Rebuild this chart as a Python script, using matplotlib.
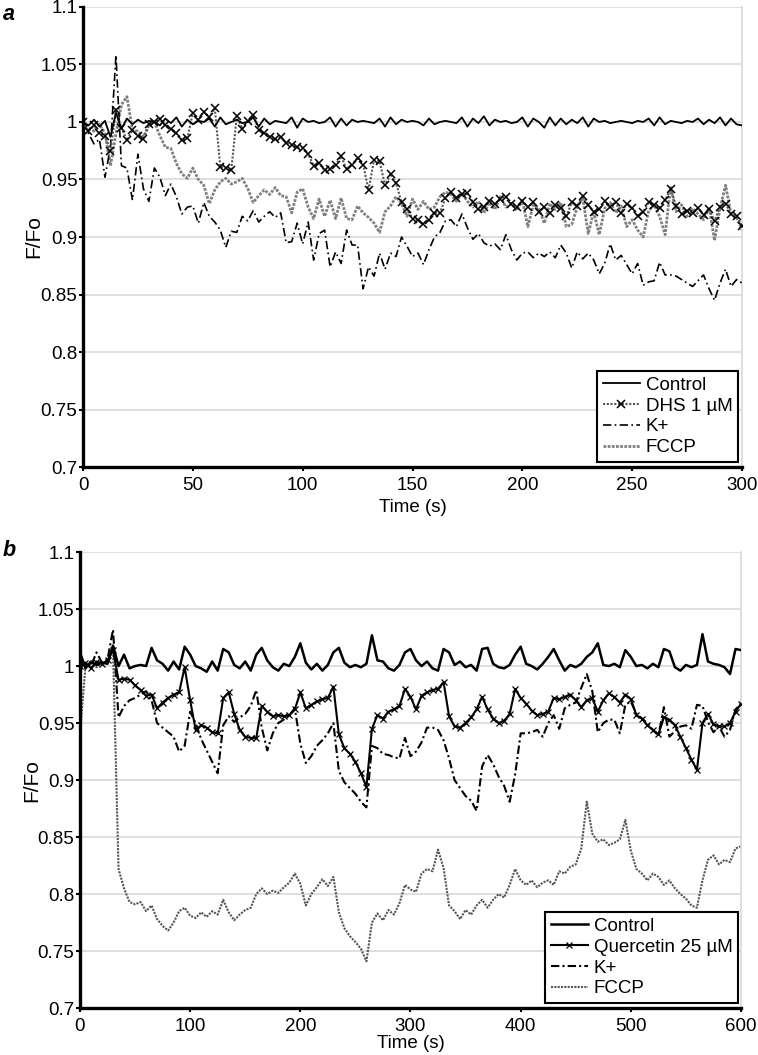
import numpy as np
import matplotlib
matplotlib.use("Agg")
import matplotlib.pyplot as plt
from matplotlib.ticker import FuncFormatter

plt.rcParams['font.family'] = ['Liberation Sans', 'DejaVu Sans']

# ---- panel a : 0-300 s, one value every 2.5 s ----
step_a = 2.5
control_a = [
    1.000, 0.997, 1.002, 0.996, 1.001, 0.987, 1.008, 0.994, 1.003, 0.998,
    1.002, 0.999, 1.001, 1.000, 0.997, 1.003, 0.999, 1.004, 0.996, 1.002,
    0.998, 1.001, 1.000, 1.003, 0.996, 1.004, 0.998, 1.000, 1.002, 0.999,
    1.000, 1.004, 0.996, 1.003, 0.998, 1.001, 1.000, 0.999, 1.004, 0.995,
    1.003, 1.000, 1.001, 0.999, 1.000, 1.004, 0.996, 1.003, 0.997, 1.002,
    1.000, 1.001, 1.000, 0.999, 1.003, 0.996, 1.004, 0.998, 1.002, 1.000,
    1.001, 1.000, 0.997, 1.003, 0.998, 1.000, 1.001, 1.000, 0.999, 1.004,
    0.996, 1.003, 0.999, 1.005, 0.997, 1.002, 1.000, 1.001, 0.999, 1.000,
    1.004, 0.996, 1.003, 1.000, 0.995, 1.004, 0.997, 1.003, 0.998, 1.002,
    0.999, 1.004, 0.996, 1.003, 1.000, 1.001, 0.999, 1.000, 1.001, 1.000,
    0.999, 1.001, 1.000, 1.003, 0.997, 1.004, 0.998, 1.001, 1.000, 0.999,
    1.001, 1.000, 1.003, 0.998, 1.002, 0.999, 1.004, 0.997, 1.003, 0.998,
    0.997]
dhs_a = [
    1.000, 0.992, 0.997, 0.990, 0.988, 0.975, 1.010, 0.995, 0.984, 0.993,
    0.988, 0.985, 0.998, 1.000, 1.003, 0.997, 0.994, 0.990, 0.984, 0.986,
    1.008, 1.002, 1.009, 1.004, 1.012, 0.961, 0.960, 0.958, 1.005, 0.994,
    1.001, 1.006, 0.993, 0.990, 0.987, 0.985, 0.987, 0.982, 0.980, 0.978,
    0.977, 0.972, 0.962, 0.964, 0.958, 0.959, 0.963, 0.970, 0.959, 0.963,
    0.969, 0.963, 0.941, 0.967, 0.966, 0.945, 0.955, 0.947, 0.930, 0.924,
    0.916, 0.915, 0.911, 0.915, 0.921, 0.921, 0.934, 0.939, 0.934, 0.937,
    0.938, 0.930, 0.924, 0.926, 0.931, 0.929, 0.933, 0.935, 0.929, 0.926,
    0.931, 0.926, 0.930, 0.922, 0.926, 0.921, 0.928, 0.925, 0.918, 0.930,
    0.927, 0.936, 0.928, 0.922, 0.924, 0.931, 0.926, 0.930, 0.921, 0.929,
    0.925, 0.918, 0.922, 0.930, 0.928, 0.925, 0.932, 0.942, 0.927, 0.920,
    0.923, 0.921, 0.925, 0.919, 0.924, 0.914, 0.926, 0.929, 0.920, 0.918,
    0.910]
kplus_a = [
    1.000, 0.990, 0.981, 0.985, 0.952, 0.978, 1.058, 0.962, 0.960, 0.932,
    0.972, 0.942, 0.931, 0.960, 0.952, 0.936, 0.946, 0.935, 0.920, 0.926,
    0.927, 0.912, 0.930, 0.918, 0.913, 0.906, 0.891, 0.905, 0.904, 0.918,
    0.914, 0.923, 0.913, 0.918, 0.922, 0.917, 0.921, 0.895, 0.896, 0.912,
    0.894, 0.913, 0.880, 0.903, 0.906, 0.874, 0.887, 0.877, 0.906, 0.893,
    0.893, 0.855, 0.874, 0.866, 0.886, 0.872, 0.886, 0.883, 0.900, 0.892,
    0.883, 0.886, 0.876, 0.889, 0.900, 0.904, 0.914, 0.915, 0.909, 0.920,
    0.908, 0.898, 0.903, 0.895, 0.892, 0.894, 0.889, 0.902, 0.889, 0.880,
    0.886, 0.887, 0.882, 0.886, 0.883, 0.887, 0.882, 0.893, 0.886, 0.873,
    0.887, 0.881, 0.886, 0.880, 0.868, 0.877, 0.894, 0.880, 0.884, 0.876,
    0.868, 0.877, 0.858, 0.861, 0.862, 0.878, 0.867, 0.867, 0.866, 0.863,
    0.860, 0.857, 0.862, 0.867, 0.855, 0.845, 0.860, 0.872, 0.857, 0.863,
    0.860]
fccp_a = [
    1.000, 0.995, 0.992, 0.998, 0.990, 0.962, 0.990, 1.015, 1.022, 0.993,
    0.992, 0.987, 0.997, 1.000, 0.988, 0.978, 0.977, 0.964, 0.955, 0.951,
    0.960, 0.950, 0.945, 0.929, 0.941, 0.948, 0.951, 0.946, 0.948, 0.951,
    0.942, 0.930, 0.936, 0.941, 0.937, 0.943, 0.936, 0.935, 0.921, 0.939,
    0.942, 0.926, 0.916, 0.933, 0.918, 0.932, 0.916, 0.934, 0.916, 0.915,
    0.927, 0.921, 0.917, 0.912, 0.904, 0.922, 0.927, 0.935, 0.929, 0.918,
    0.933, 0.924, 0.931, 0.924, 0.926, 0.935, 0.939, 0.937, 0.931, 0.938,
    0.931, 0.926, 0.931, 0.921, 0.930, 0.924, 0.935, 0.926, 0.929, 0.923,
    0.932, 0.909, 0.928, 0.925, 0.912, 0.929, 0.924, 0.930, 0.909, 0.911,
    0.926, 0.934, 0.903, 0.922, 0.902, 0.925, 0.930, 0.921, 0.927, 0.909,
    0.915, 0.906, 0.900, 0.923, 0.928, 0.918, 0.902, 0.944, 0.922, 0.928,
    0.918, 0.925, 0.920, 0.915, 0.926, 0.897, 0.925, 0.945, 0.920, 0.917,
    0.906]

# ---- panel b : 0-600 s, one value every 5 s ----
step_b = 5
control_b = [
    1.012, 0.998, 1.004, 1.001, 1.003, 1.002, 1.018, 1.000, 1.010, 0.998,
    1.000, 1.001, 1.000, 1.016, 1.005, 1.002, 0.996, 1.004, 0.997, 1.017,
    1.010, 1.000, 0.998, 0.995, 1.004, 0.996, 1.015, 1.012, 1.001, 0.998,
    1.004, 0.996, 1.010, 1.016, 1.005, 0.999, 0.996, 1.002, 1.000, 1.008,
    1.020, 1.003, 0.997, 1.002, 0.996, 1.001, 1.012, 1.016, 1.003, 0.999,
    1.001, 0.999, 1.002, 1.027, 1.005, 1.004, 0.998, 0.996, 1.001, 1.012,
    1.015, 1.005, 1.000, 1.004, 0.998, 0.996, 1.015, 1.012, 1.001, 1.004,
    0.999, 1.001, 0.996, 1.015, 1.016, 1.002, 0.999, 0.998, 1.001, 1.010,
    1.017, 1.002, 1.000, 0.997, 1.002, 1.008, 1.015, 1.005, 0.996, 1.001,
    0.999, 1.002, 1.008, 1.012, 1.020, 1.001, 1.000, 1.002, 0.999, 1.014,
    1.008, 1.000, 1.001, 0.998, 1.002, 0.999, 1.015, 1.013, 0.999, 0.996,
    1.001, 0.999, 1.001, 1.028, 1.004, 1.002, 1.001, 0.999, 0.993, 1.015,
    1.014]
quercetin_b = [
    1.000, 1.003, 0.998, 1.004, 1.002, 1.005, 1.014, 0.988, 0.989, 0.988,
    0.983, 0.979, 0.974, 0.975, 0.963, 0.968, 0.972, 0.975, 0.977, 0.999,
    0.970, 0.944, 0.948, 0.946, 0.942, 0.941, 0.972, 0.977, 0.958, 0.944,
    0.938, 0.937, 0.937, 0.965, 0.960, 0.956, 0.957, 0.956, 0.957, 0.962,
    0.977, 0.963, 0.966, 0.969, 0.971, 0.972, 0.982, 0.940, 0.928, 0.923,
    0.916, 0.906, 0.894, 0.945, 0.957, 0.954, 0.960, 0.962, 0.965, 0.980,
    0.973, 0.962, 0.974, 0.977, 0.979, 0.980, 0.986, 0.956, 0.947, 0.946,
    0.950, 0.955, 0.962, 0.973, 0.962, 0.954, 0.950, 0.952, 0.958, 0.980,
    0.972, 0.967, 0.961, 0.957, 0.958, 0.960, 0.972, 0.971, 0.973, 0.975,
    0.970, 0.964, 0.970, 0.972, 0.960, 0.970, 0.976, 0.973, 0.968, 0.975,
    0.971, 0.957, 0.954, 0.948, 0.944, 0.940, 0.955, 0.953, 0.948, 0.938,
    0.928, 0.918, 0.909, 0.950, 0.958, 0.949, 0.947, 0.947, 0.950, 0.960,
    0.967]
kplus_b = [
    0.998, 1.003, 1.000, 1.012, 1.003, 1.006, 1.032, 0.955, 0.965, 0.970,
    0.972, 0.975, 0.978, 0.970, 0.950, 0.946, 0.942, 0.938, 0.925, 0.930,
    0.960, 0.950, 0.936, 0.926, 0.916, 0.906, 0.948, 0.956, 0.951, 0.955,
    0.958, 0.965, 0.979, 0.946, 0.926, 0.941, 0.950, 0.953, 0.957, 0.963,
    0.932, 0.915, 0.921, 0.930, 0.935, 0.941, 0.950, 0.908, 0.898, 0.893,
    0.888, 0.881, 0.876, 0.930, 0.928, 0.923, 0.922, 0.920, 0.919, 0.937,
    0.921, 0.925, 0.933, 0.946, 0.946, 0.944, 0.935, 0.919, 0.900, 0.893,
    0.886, 0.882, 0.873, 0.912, 0.922, 0.914, 0.903, 0.895, 0.881, 0.905,
    0.941, 0.941, 0.942, 0.944, 0.938, 0.950, 0.957, 0.945, 0.963, 0.966,
    0.968, 0.981, 0.993, 0.978, 0.942, 0.950, 0.953, 0.953, 0.941, 0.966,
    0.969, 0.958, 0.954, 0.950, 0.944, 0.939, 0.964, 0.938, 0.943, 0.947,
    0.948, 0.945, 0.966, 0.965, 0.951, 0.942, 0.947, 0.938, 0.944, 0.962,
    0.967]
fccp_b = [
    0.940, 1.000, 1.002, 0.999, 1.003, 1.004, 1.015, 0.822, 0.805, 0.793,
    0.791, 0.793, 0.785, 0.790, 0.778, 0.772, 0.768, 0.775, 0.785, 0.788,
    0.781, 0.779, 0.784, 0.780, 0.785, 0.782, 0.795, 0.784, 0.777, 0.782,
    0.786, 0.788, 0.800, 0.805, 0.800, 0.803, 0.801, 0.806, 0.810, 0.818,
    0.809, 0.790, 0.800, 0.806, 0.813, 0.807, 0.815, 0.784, 0.770, 0.763,
    0.758, 0.752, 0.741, 0.775, 0.783, 0.777, 0.786, 0.782, 0.792, 0.808,
    0.804, 0.802, 0.818, 0.822, 0.820, 0.839, 0.823, 0.790, 0.785, 0.778,
    0.786, 0.782, 0.790, 0.795, 0.788, 0.795, 0.800, 0.797, 0.808, 0.822,
    0.812, 0.808, 0.812, 0.806, 0.810, 0.812, 0.808, 0.820, 0.818, 0.824,
    0.826, 0.840, 0.881, 0.853, 0.846, 0.848, 0.843, 0.845, 0.848, 0.865,
    0.838, 0.822, 0.818, 0.812, 0.818, 0.815, 0.808, 0.812, 0.805, 0.800,
    0.796, 0.790, 0.788, 0.812, 0.830, 0.834, 0.826, 0.830, 0.828, 0.840,
    0.842]

yticks = [0.7, 0.75, 0.8, 0.85, 0.9, 0.95, 1.0, 1.05, 1.1]
xticks_a = [0, 50, 100, 150, 200, 250, 300]
xticks_b = [0, 100, 200, 300, 400, 500, 600]

FS = 13.5
GRID = '#d9d9d9'


def times(vals, step):
    return step * np.arange(len(vals))


def style_axes(ax, xmax, xticks, ylab_x, xlab_pad):
    ax.set_xlim(0, xmax)
    ax.set_ylim(0.7, 1.1)
    ax.set_yticks(yticks)
    ax.set_xticks(xticks)
    ax.yaxis.set_major_formatter(FuncFormatter(lambda v, p: '%g' % round(v, 2)))
    ax.grid(axis='y', color=GRID, linewidth=1.2, zorder=0)
    ax.set_axisbelow(True)
    ax.spines['top'].set_visible(False)
    ax.spines['right'].set_color(GRID)
    ax.spines['right'].set_linewidth(1.2)
    ax.spines['left'].set_linewidth(2.4)
    ax.spines['bottom'].set_linewidth(2.4)
    ax.tick_params(axis='both', labelsize=FS, length=3, width=1.5, direction='out')
    ax.tick_params(axis='y', pad=1)
    ax.tick_params(axis='x', pad=4)
    ax.set_xlabel('Time (s)', fontsize=FS, labelpad=xlab_pad)
    ax.set_ylabel('F/Fo', fontsize=FS + 1.5)
    ax.yaxis.set_label_coords(ylab_x, 0.5)


fig = plt.figure(figsize=(7.58, 10.55), dpi=100)
ax1 = fig.add_axes([0.1095, 0.5573, 0.8694, 0.4361])
ax2 = fig.add_axes([0.1055, 0.0445, 0.8721, 0.4322])

# panel a
ax1.plot(times(control_a, step_a), control_a, color='black', lw=1.3, label='Control', zorder=5)
ax1.plot(times(dhs_a, step_a), dhs_a, color='#555555', lw=1.5, ls=(0, (1, 0.8)),
         marker='x', ms=6, mew=1.1, mec='black', label='DHS 1 µM', zorder=4)
ax1.plot(times(kplus_a, step_a), kplus_a, color='black', lw=1.2, ls=(0, (5, 2, 1, 2)),
         label='K+', zorder=3)
ax1.plot(times(fccp_a, step_a), fccp_a, color='#808080', lw=2.0, ls=(0, (1, 0.5)),
         label='FCCP', zorder=2)
style_axes(ax1, 300, xticks_a, -0.061, 4)

# panel b
ax2.plot(times(control_b, step_b), control_b, color='black', lw=1.8, label='Control', zorder=5)
ax2.plot(times(quercetin_b, step_b), quercetin_b, color='black', lw=1.5,
         marker='x', ms=4, mew=0.9, label='Quercetin 25 µM', zorder=4)
ax2.plot(times(kplus_b, step_b), kplus_b, color='black', lw=1.5, ls=(0, (4, 1.5, 1, 1.5)),
         label='K+', zorder=3)
ax2.plot(times(fccp_b, step_b), fccp_b, color='#555555', lw=1.5, ls=(0, (1, 0.6)),
         label='FCCP', zorder=2)
style_axes(ax2, 600, xticks_b, -0.059, 0)

for ax, anchor in ((ax1, (0.994, 0.011)), (ax2, (0.9955, 0.011))):
    leg = ax.legend(loc='lower right', bbox_to_anchor=anchor, borderaxespad=0,
                    fontsize=FS, fancybox=False, framealpha=1, edgecolor='black',
                    handlelength=2.0, handletextpad=0.3, labelspacing=0.2,
                    borderpad=0.3)
    leg.get_frame().set_linewidth(1.5)
    leg.set_zorder(10)

fig.text(0.004, 0.996, 'a', fontsize=FS + 2, fontweight='bold', fontstyle='italic',
         va='top', ha='left')
fig.text(0.004, 0.488, 'b', fontsize=FS + 2, fontweight='bold', fontstyle='italic',
         va='top', ha='left')

fig.savefig('out.png', dpi=100)
